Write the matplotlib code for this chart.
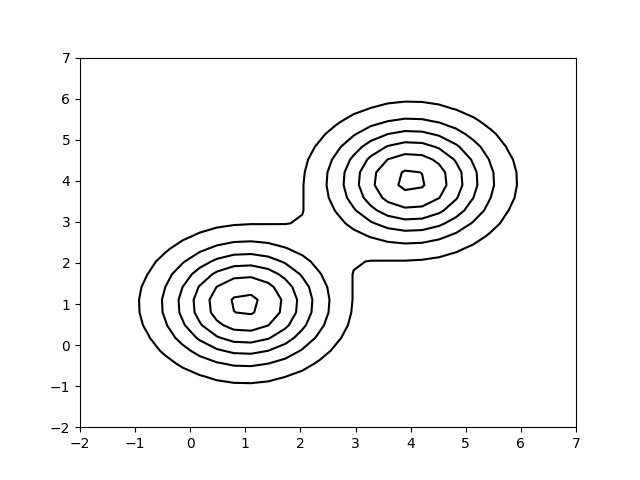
import numpy as np
import matplotlib
matplotlib.use("Agg")
import matplotlib.pyplot as plt

# Two bumps (peak height 1), sampled on a coarse grid
centros = [(1.0, 1.0), (4.0, 4.0)]
sigma = 1.0
niveles = [0.16, 0.32, 0.48, 0.64, 0.80, 0.96]
x_lim = (-2, 7)
y_lim = (-2, 7)
n_puntos = 30

x = np.linspace(x_lim[0], x_lim[1], n_puntos)
y = np.linspace(y_lim[0], y_lim[1], n_puntos)
X, Y = np.meshgrid(x, y)

Z = np.zeros_like(X)
for cx, cy in centros:
    Z += np.exp(-((X - cx) ** 2 + (Y - cy) ** 2) / (2 * sigma ** 2))

fig, ax = plt.subplots(figsize=(6.4, 4.8), dpi=100)
ax.contour(X, Y, Z, levels=niveles, colors="black")
ax.set_xlim(*x_lim)
ax.set_ylim(*y_lim)
fig.savefig("out.png")
